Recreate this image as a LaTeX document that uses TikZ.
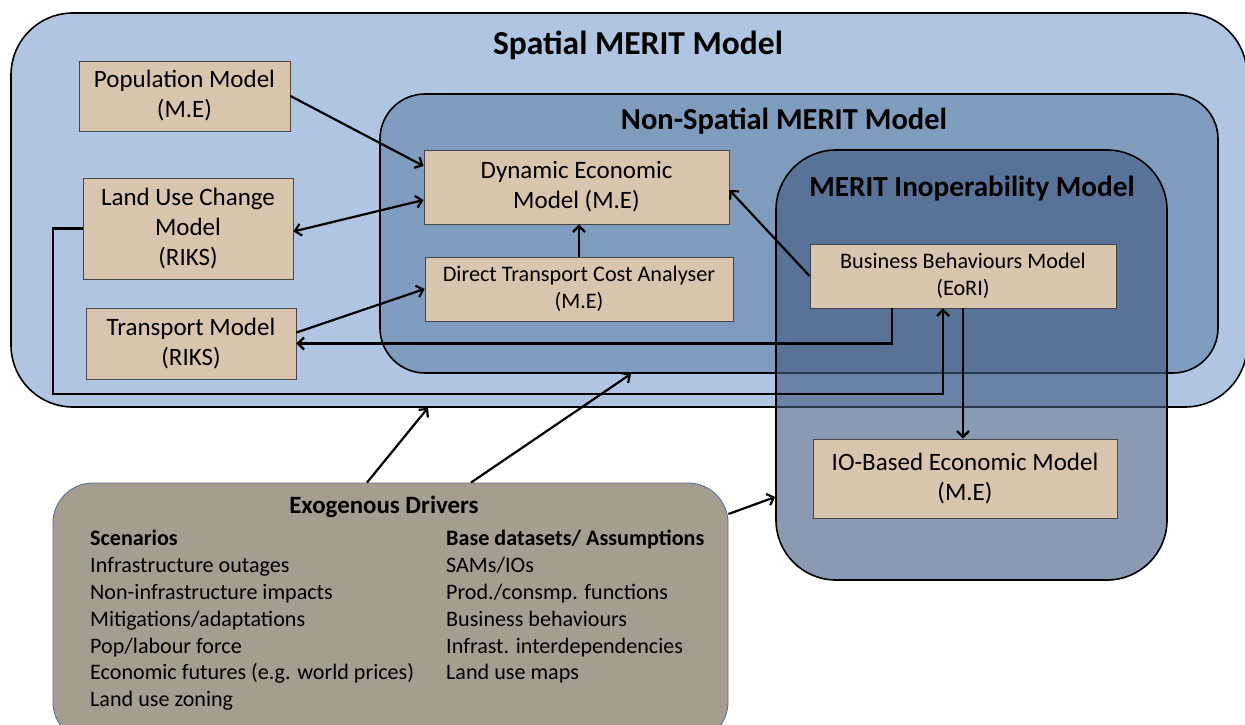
\documentclass[tikz,border=0pt]{standalone}
\usepackage{fontspec}
\setmainfont{Carlito}
\usetikzlibrary{arrows.meta,calc}
\definecolor{spatialfill}{RGB}{175,197,226}
\definecolor{nsfill}{RGB}{127,155,190}
\definecolor{meritfill}{RGB}{66,92,130}
\definecolor{boxfill}{RGB}{217,196,173}
\definecolor{boxline}{RGB}{70,70,70}
\definecolor{exofill}{RGB}{166,157,145}
\definecolor{exoline}{RGB}{84,116,160}
\begin{document}
\begin{tikzpicture}[x=1pt,y=-1pt,
  region/.style={draw=black, line width=1.6pt, inner sep=0pt},
  model/.style={draw=boxline, fill=boxfill, line width=0.9pt, inner sep=0pt,
    align=center, font=\fontsize{25}{30}\selectfont},
  smallmodel/.style={model, font=\fontsize{22.2}{27}\selectfont},
  title/.style={font=\bfseries, inner sep=0pt},
  link/.style={line width=2.2pt, -{Straight Barb[length=6pt,width=12pt]}},
  twoway/.style={line width=2.2pt, {Straight Barb[length=6pt,width=12pt]}-{Straight Barb[length=6pt,width=12pt]}}
]
\useasboundingbox (0,0) rectangle (1245,725);

% nested model regions
\node[region, fill=spatialfill, rounded corners=62pt,
  minimum width=1236pt, minimum height=394pt] (spatial) at (629,210) {};
\node[region, fill=nsfill, rounded corners=45pt,
  minimum width=838pt, minimum height=279pt] (nonspatial) at (799,233.5) {};
\node[region, fill=meritfill, fill opacity=0.62, rounded corners=60pt,
  minimum width=391pt, minimum height=430pt] (merit) at (971.5,365) {};

\node[title, font=\fontsize{33.5}{38}\selectfont\bfseries] (spatialtitle) at (638,45) {Spatial MERIT Model};
\node[title, font=\fontsize{30.5}{34}\selectfont\bfseries] (nstitle) at (784,121) {Non-Spatial MERIT Model};
\node[title, font=\fontsize{29.2}{33}\selectfont\bfseries] (merittitle) at (972,189) {MERIT Inoperability Model};

% component models
\node[model, minimum width=211pt, minimum height=70pt] (pop) at (184.5,96) {Population Model\\(M.E)};
\node[model, minimum width=210pt, minimum height=101pt] (land) at (188,228.5) {Land Use Change\\Model\\(RIKS)};
\node[model, minimum width=210pt, minimum height=71pt] (trans) at (191,343.5) {Transport Model\\(RIKS)};
\node[model, minimum width=305pt, minimum height=74pt] (dyn) at (576.5,187) {Dynamic Economic\\Model (M.E)};
\node[smallmodel, minimum width=308pt, minimum height=64pt] (dtc) at (579,289) {Direct Transport Cost Analyser\\(M.E)};
\node[smallmodel, minimum width=306pt, minimum height=64pt] (bbm) at (963,276) {Business Behaviours Model\\(EoRI)};
\node[model, minimum width=304pt, minimum height=79pt] (io) at (965,478.5) {IO-Based Economic Model\\(M.E)};

% exogenous drivers
\node[draw=exoline, fill=exofill, line width=0.9pt, rounded corners=40pt, inner sep=0pt,
  minimum width=675pt, minimum height=259pt] (exo) at (390.5,612.5) {};
\node[title, font=\fontsize{24.9}{28}\selectfont\bfseries] (exotitle) at (384,507) {Exogenous Drivers};
\node[inner sep=0pt, anchor=west, align=left, font=\fontsize{22.1}{26.8}\selectfont] (scen) at (90,620.5)
  {\textbf{Scenarios}\\Infrastructure outages\\Non-infrastructure impacts\\Mitigations/adaptations\\Pop/labour force\\Economic futures (e.g. world prices)\\Land use zoning};
\node[inner sep=0pt, anchor=west, align=left, font=\fontsize{22.1}{26.8}\selectfont] (base) at (446,607)
  {\textbf{Base datasets/ Assumptions}\\SAMs/IOs\\Prod./consmp. functions\\Business behaviours\\Infrast. interdependencies\\Land use maps};

% connectors
\coordinate (loopcorner) at (53,394);
\draw[link] (pop.east) -- ([yshift=21pt]dyn.west);
\draw[twoway] ([yshift=-3pt]land.east) -- ([yshift=-13pt]dyn.west);
\draw[link] ([yshift=11pt]trans.east) -- (dtc.west);
\draw[link] (dtc.north) -- (dtc.north |- dyn.south);
\draw[link] (bbm.west) -- ([yshift=-3pt]dyn.east);
\draw[link] ([xshift=-71pt]bbm.south) |- (trans.east);
\draw[link] (land.west) -| (loopcorner) -| ([xshift=-20pt]bbm.south);
\draw[link] (bbm.south) -- (bbm.south |- io.north);
\draw[link] ([xshift=-23.5pt]exo.north) -- ([xshift=-201pt]spatial.south);
\draw[link] ([xshift=80.5pt]exo.north) -- ([xshift=-168pt]nonspatial.south);
\draw[link] ([yshift=98.5pt]exo.east) -- ([yshift=-132pt]merit.west);
\end{tikzpicture}
\end{document}
